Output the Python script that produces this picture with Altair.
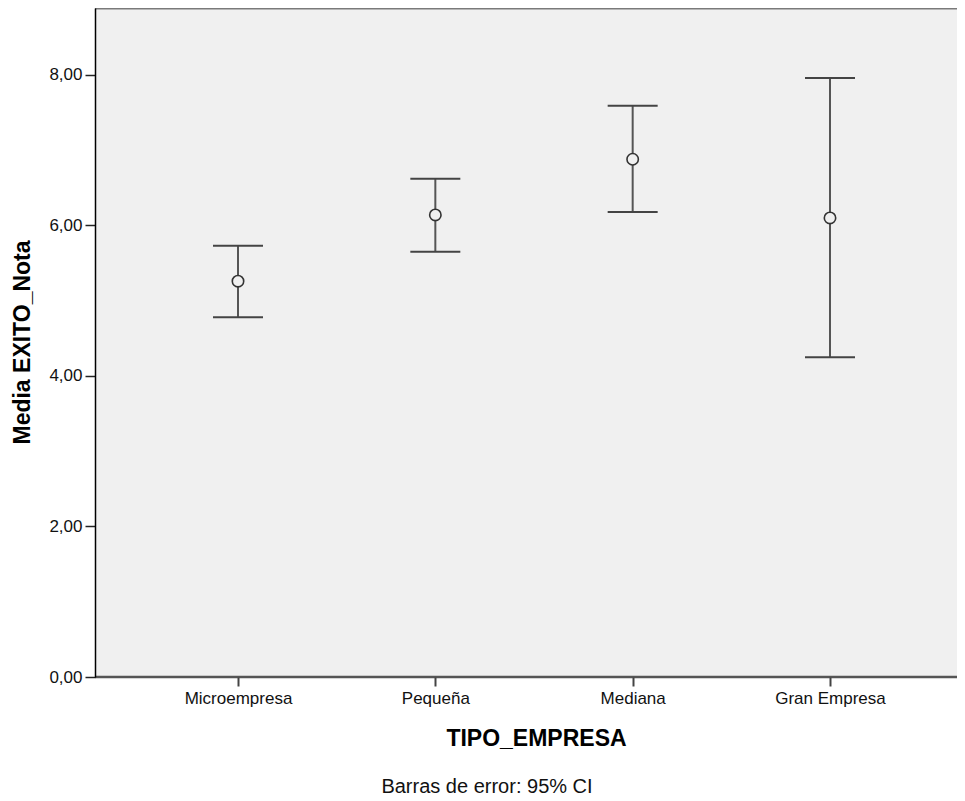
import altair as alt
import pandas as pd

categories = ["Microempresa", "Pequeña", "Mediana", "Gran Empresa"]
means = [5.26, 6.14, 6.88, 6.10]
lower = [4.78, 5.65, 6.18, 4.25]
upper = [5.73, 6.62, 7.59, 7.96]
y_ticks = [0, 2, 4, 6, 8]
footer_text = ["Barras de error: 95% CI"]

df = pd.DataFrame({"cat": categories, "mean": means, "lo": lower, "hi": upper})
foot = pd.DataFrame({"t": footer_text})

W, H = 862, 669
FONT = "Liberation Sans"

x_enc = alt.X(
    "cat:N",
    sort=categories,
    scale=alt.Scale(type="point", range=[143, 735], padding=0),
    axis=alt.Axis(
        title="TIPO_EMPRESA", labelAngle=0, labelFont=FONT, labelFontSize=17,
        labelColor="#111", labelPadding=4, tickSize=9, tickColor="#444",
        tickWidth=2, domain=False, grid=False, zindex=1,
        titleFont=FONT, titleFontSize=23, titleFontWeight="bold",
        titleColor="#000", titleX=441, titleY=61, titleAlign="center",
        titleBaseline="middle", titleAnchor="middle",
    ),
)

y_axis = alt.Axis(
    title="Media EXITO_Nota", values=y_ticks,
    labelExpr="replace(format(datum.value, '.2f'), '.', ',')",
    labelFont=FONT, labelFontSize=17, labelColor="#111", labelPadding=3,
    tickSize=10, tickColor="#222", tickWidth=1.5, domainColor="#000",
    domainWidth=1.5, grid=False, zindex=1, titleFont=FONT, titleFontSize=23,
    titleFontWeight="bold", titleColor="#000", titleAngle=270,
    titleX=-73, titleY=334, titleAlign="center", titleBaseline="middle",
)
y_scale = alt.Scale(domain=[0, 8.89], nice=False, zero=True)

base = alt.Chart(df)

bg = alt.Chart(foot).mark_rect(fill="#f0f0f0", stroke=None).encode(
    x=alt.value(0), x2=alt.value(W), y=alt.value(0), y2=alt.value(H)
)
whisk = base.mark_rule(color="#555", strokeWidth=2).encode(
    x=x_enc,
    y=alt.Y("lo:Q", scale=y_scale, axis=y_axis),
    y2="hi:Q",
)
cap_lo = base.mark_tick(orient="horizontal", size=50, thickness=2, color="#444", opacity=1).encode(
    x=x_enc, y=alt.Y("lo:Q", scale=y_scale, axis=y_axis)
)
cap_hi = base.mark_tick(orient="horizontal", size=50, thickness=2, color="#444", opacity=1).encode(
    x=x_enc, y=alt.Y("hi:Q", scale=y_scale, axis=y_axis)
)
pts = base.mark_point(shape="circle", filled=True, fill="#f0f0f0", size=130,
                      stroke="#333", strokeWidth=1.6, opacity=1).encode(
    x=x_enc, y=alt.Y("mean:Q", scale=y_scale, axis=y_axis)
)
top_border = alt.Chart(foot).mark_rule(color="#7a7a7a", strokeWidth=3).encode(
    x=alt.value(0), x2=alt.value(W), y=alt.value(0)
)
bottom_line = alt.Chart(foot).mark_rule(color="#555", strokeWidth=2.5).encode(
    x=alt.value(0), x2=alt.value(W), y=alt.value(H)
)
footer = alt.Chart(foot).mark_text(font=FONT, fontSize=20, color="#111",
                                   align="center", baseline="middle").encode(
    x=alt.value(392), y=alt.value(779), text="t:N"
)

chart = alt.layer(bg, whisk, cap_lo, cap_hi, pts, top_border, bottom_line, footer).properties(
    width=W, height=H,
    autosize=alt.AutoSizeParams(type="none"),
    padding={"left": 87, "top": 0, "right": 0, "bottom": 124},
).configure_view(stroke=None).configure(background="#ffffff")

chart.save("out.html", embed_options={"renderer": "svg", "actions": False})
